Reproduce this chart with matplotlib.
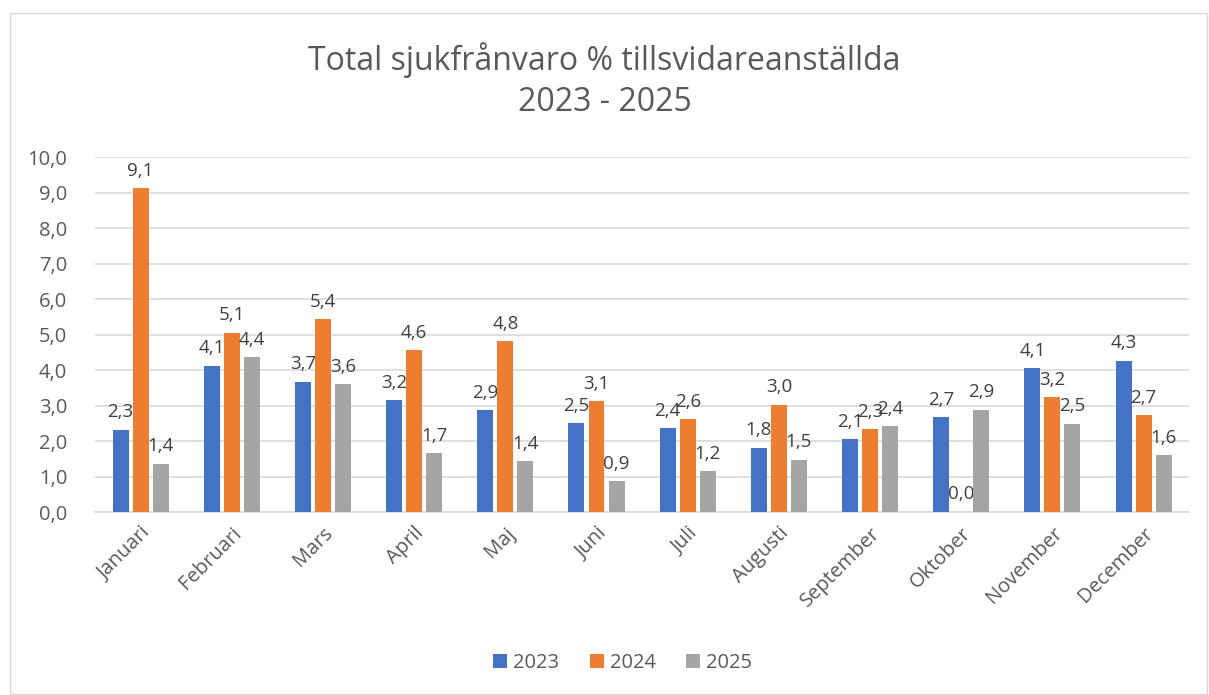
import numpy as np
from matplotlib import pyplot as plt
from matplotlib.patches import Rectangle

# data
months = ['Januari', 'Februari', 'Mars', 'April', 'Maj', 'Juni', 'Juli',
          'Augusti', 'September', 'Oktober', 'November', 'December']
years = ['2023', '2024', '2025']
v2023 = [2.32, 4.13, 3.68, 3.16, 2.88, 2.50, 2.37, 1.82, 2.06, 2.68, 4.06, 4.27]
v2024 = [9.13, 5.06, 5.44, 4.57, 4.82, 3.12, 2.62, 3.03, 2.33, 0.02, 3.24, 2.74]
v2025 = [1.37, 4.36, 3.61, 1.66, 1.43, 0.87, 1.16, 1.48, 2.43, 2.89, 2.49, 1.60]
colors = ['#4472C4', '#ED7D31', '#A5A5A5']

plt.rcParams['font.family'] = ['Open Sans', 'DejaVu Sans']
txt = '#595959'
fs = 14.5

fig = plt.figure(figsize=(12.09, 6.95), dpi=100)
# light chart border
fig.patches.append(Rectangle((0.008, 0.002), 0.99, 0.98, transform=fig.transFigure,
                             fill=False, edgecolor='#D9D9D9', linewidth=1))
ax = fig.add_axes([0.0786, 0.263, 0.905, 0.511])

x = np.arange(len(months))
w = 0.175
step = 0.22
for i, (vals, yr) in enumerate(zip([v2023, v2024, v2025], years)):
    bars = ax.bar(x + (i - 1) * step, vals, w, color=colors[i], label=yr, zorder=3)
    for b, v in zip(bars, vals):
        ax.annotate(('%.1f' % v).replace('.', ','),
                    (b.get_x() + b.get_width() / 2, b.get_height()),
                    xytext=(0, 6), textcoords='offset points',
                    ha='center', va='bottom', fontsize=13.5, color='#404040')

ax.set_ylim(0, 10)
ax.set_xlim(-0.5, len(months) - 0.5)
ax.set_yticks(np.arange(0, 10.01, 1))
ax.set_yticklabels([('%.1f' % t).replace('.', ',') for t in np.arange(0, 10.01, 1)])
ax.set_xticks(x)
ax.set_xticklabels(months, rotation=45, ha='right', rotation_mode='anchor')
ax.tick_params(axis='both', length=0, labelsize=fs, labelcolor=txt)
ax.tick_params(axis='y', pad=20)
ax.tick_params(axis='x', pad=8)
ax.grid(axis='y', color='#D9D9D9', linewidth=1.2, zorder=0)
for s in ['top', 'right', 'left']:
    ax.spines[s].set_visible(False)
ax.spines['bottom'].set_color('#D9D9D9')
ax.spines['bottom'].set_linewidth(1.2)

fig.suptitle('Total sjukfrånvaro % tillsvidareanställda\n2023 - 2025',
             y=0.94, fontsize=23, color=txt, linespacing=1.35)
fig.legend(loc='center', bbox_to_anchor=(0.515, 0.046), ncol=3, frameon=False,
           fontsize=fs, labelcolor=txt, handlelength=0.7, handleheight=0.7,
           columnspacing=1.5, handletextpad=0.3)

plt.savefig('out.png', dpi=100)
